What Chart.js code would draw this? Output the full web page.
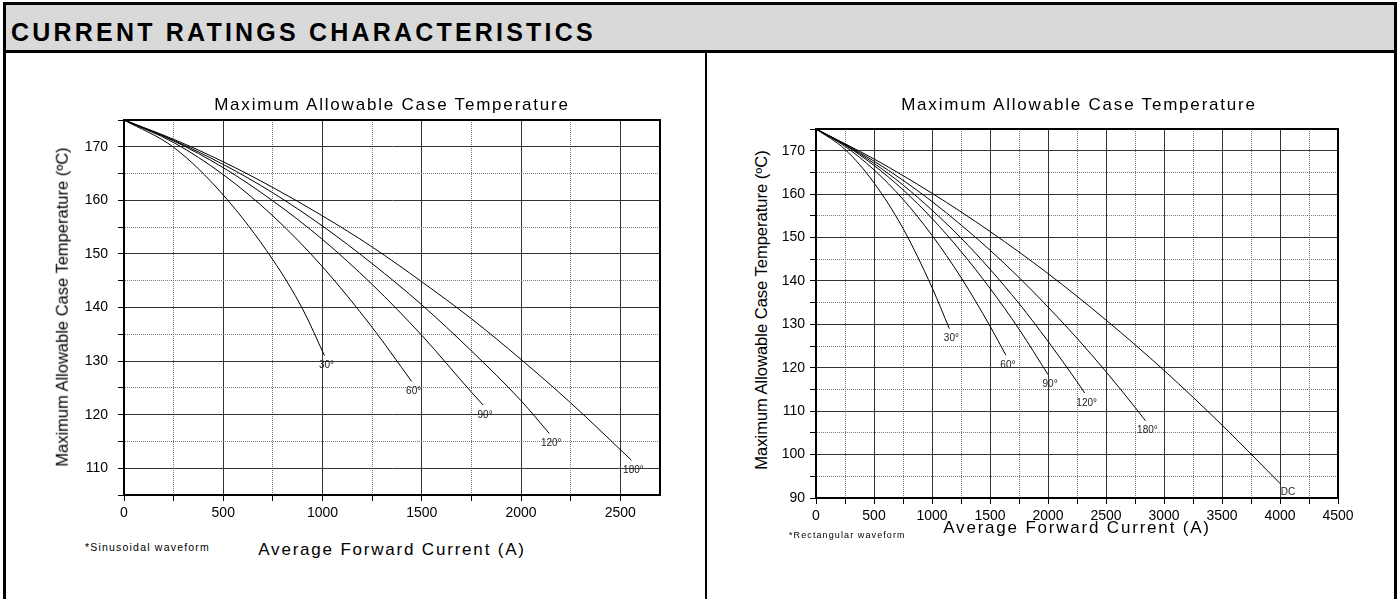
<!DOCTYPE html>
<html>
<head>
<meta charset="utf-8">
<title>Current Ratings Characteristics</title>
<script src="https://cdn.jsdelivr.net/npm/chart.js@4.4.1/dist/chart.umd.min.js"></script>
<style>
  body { margin: 0; width: 1399px; height: 599px; overflow: hidden; background: #fff;
         font-family: "Liberation Sans", Arial, sans-serif; position: relative; }
  #outer { position: absolute; left: 3px; top: 2px; width: 1388px; height: 610px; border: 3px solid #000; }
  #header { position: absolute; left: 6px; top: 5px; width: 1388px; height: 45px;
            background: #d9d9d9; border-bottom: 3px solid #000; }
  #header span { position: absolute; left: 5px; top: 26.5px; transform: translateY(-50%);
                 font-weight: bold; font-size: 25px; letter-spacing: 3.2px; line-height: 1; }
  #divider { position: absolute; left: 705px; top: 53px; width: 2px; height: 560px; background: #000; }
  canvas { position: absolute; }
  .txt { position: absolute; white-space: nowrap; line-height: 1; color: #000; transform: translate(-50%, -50%); }
  .ttl { font-size: 17px; letter-spacing: 1.8px; }
  .ytl { font-size: 16.5px; transform: translate(-50%, -50%) rotate(-90deg); }
  .note { position: absolute; white-space: nowrap; line-height: 1; transform: translateY(-50%); }
</style>
</head>
<body>
<div id="outer"></div>
<div id="header"><span>CURRENT RATINGS CHARACTERISTICS</span></div>
<div id="divider"></div>

<canvas id="sinChart" width="610" height="420" style="left:70px; top:110px;"></canvas>
<canvas id="rectChart" width="590" height="415" style="left:770px; top:118px;"></canvas>

<div class="txt ttl" style="left:392px; top:104px;">Maximum Allowable Case Temperature</div>
<div class="txt ttl" style="left:1079px; top:104px;">Maximum Allowable Case Temperature</div>
<div class="txt ttl" style="left:392px; top:549px;">Average Forward Current (A)</div>
<div class="txt ttl" style="left:1077px; top:527px;">Average Forward Current (A)</div>
<div class="txt ytl" style="left:62px; top:307px;">Maximum Allowable Case Temperature (ºC)</div>
<div class="txt ytl" style="left:761px; top:310px;">Maximum Allowable Case Temperature (ºC)</div>
<div class="note" style="left:85px; top:547px; font-size:10.5px; letter-spacing:1.2px;">*Sinusoidal waveform</div>
<div class="note" style="left:789px; top:535px; font-size:9px; letter-spacing:1.1px;">*Rectangular waveform</div>

<script>
// sinusoidal waveform, current (A) and case temperature (ºC) per conduction angle
const sinLabels = ["30°", "60°", "90°", "120°", "180°"];
const sinI30 = [0, 250, 500, 750, 900, 1010];
const sinT30 = [175, 169.9, 161.0, 148.9, 139.7, 131.0];
const sinI60 = [0, 250, 500, 750, 1000, 1250, 1449];
const sinT60 = [175, 170.8, 164.8, 157.1, 147.6, 136.3, 126.2];
const sinI90 = [0, 250, 500, 750, 1000, 1250, 1500, 1750, 1809];
const sinT90 = [175, 171.1, 166.1, 159.9, 152.7, 144.3, 134.8, 124.2, 121.8];
const sinI120 = [0, 250, 500, 750, 1000, 1250, 1500, 1750, 2000, 2142];
const sinT120 = [175, 171.2, 166.7, 161.4, 155.2, 148.2, 140.5, 131.9, 122.6, 116.5];
const sinI180 = [0, 250, 500, 750, 1000, 1250, 1500, 1750, 2000, 2250, 2556];
const sinT180 = [175, 171.4, 167.2, 162.4, 157.1, 151.3, 144.8, 137.9, 130.3, 122.2, 111.5];

// rectangular waveform
const rectLabels = ["30°", "60°", "90°", "120°", "180°", "DC"];
const rectI30 = [0, 250, 500, 750, 1000, 1150];
const rectT30 = [175, 170.3, 162.6, 152.1, 138.5, 129.0];
const rectI60 = [0, 250, 500, 750, 1000, 1250, 1500, 1637];
const rectT60 = [175, 171.0, 165.6, 158.8, 150.5, 140.8, 129.6, 122.9];
const rectI90 = [0, 250, 500, 750, 1000, 1250, 1500, 1750, 2001];
const rectT90 = [175, 171.3, 166.6, 161.0, 154.4, 146.8, 138.3, 128.9, 118.4];
const rectI120 = [0, 250, 500, 750, 1000, 1250, 1500, 1750, 2000, 2250, 2316];
const rectT120 = [175, 171.4, 167.1, 162.1, 156.3, 149.9, 142.7, 134.8, 126.1, 116.8, 114.2];
const rectI180 = [0, 250, 500, 750, 1000, 1250, 1500, 1750, 2000, 2250, 2500, 2750, 2840];
const rectT180 = [175, 171.5, 167.6, 163.2, 158.3, 152.9, 147.1, 140.8, 134.0, 126.8, 119.1, 110.9, 107.8];
const rectIDC = [0, 500, 1000, 1500, 2000, 2500, 3000, 3500, 4006];
const rectTDC = [175, 168.1, 160.2, 151.4, 141.7, 131.0, 119.4, 106.8, 93.2];

// axis ranges and tick positions (labels only on the multiples of 500 A / 10 ºC)
const sinXMax = 2700, sinYMin = 105;
const rectXMax = 4500, rectYMin = 90;
const yMax = 175;
const sinXTicks = [0, 250, 500, 750, 1000, 1250, 1500, 1750, 2000, 2250, 2500];
const sinYTicks = [105, 110, 115, 120, 125, 130, 135, 140, 145, 150, 155, 160, 165, 170, 175];
const rectXTicks = [0, 250, 500, 750, 1000, 1250, 1500, 1750, 2000, 2250, 2500, 2750, 3000,
                    3250, 3500, 3750, 4000, 4250, 4500];
const rectYTicks = [90, 95, 100, 105, 110, 115, 120, 125, 130, 135, 140, 145, 150, 155, 160,
                    165, 170, 175];

Chart.defaults.font.family = '"Liberation Sans", Arial, sans-serif';
Chart.defaults.color = "#000";

function toPoints(xs, ys) {
  return xs.map((x, i) => ({ x: x, y: ys[i] }));
}

function makeDataset(label, xs, ys) {
  return {
    label: label,
    data: toPoints(xs, ys),
    borderColor: "#000",
    borderWidth: 1,
    pointRadius: 0,
    fill: false,
    cubicInterpolationMode: "monotone"
  };
}

// curve names next to the end of each line
const curveLabels = {
  id: "curveLabels",
  afterDatasetsDraw(chart) {
    const { ctx, scales } = chart;
    ctx.save();
    ctx.font = '10px "Liberation Sans", Arial, sans-serif';
    ctx.fillStyle = "#222";
    ctx.textBaseline = "middle";
    chart.data.datasets.forEach(ds => {
      const last = ds.data[ds.data.length - 1];
      const px = scales.x.getPixelForValue(last.x);
      const py = scales.y.getPixelForValue(last.y);
      if (ds.label === "DC") {
        ctx.textAlign = "left";
        ctx.fillText(ds.label, px, py + 8);
      } else {
        ctx.textAlign = "center";
        ctx.fillText(ds.label, px + 2, py + 10);
      }
    });
    ctx.restore();
  }
};

// box round the plot area
const plotFrame = {
  id: "plotFrame",
  afterDraw(chart) {
    const { ctx, chartArea: a } = chart;
    ctx.save();
    ctx.strokeStyle = "#000";
    ctx.lineWidth = 2;
    ctx.strokeRect(a.left, a.top, a.right - a.left, a.bottom - a.top);
    ctx.restore();
  }
};

function makeScales(xMax, yMin, xTicks, yTicks, yWidth, yPad) {
  const xMajor = v => v % 500 === 0;
  const yMajor = v => v % 10 === 0;
  return {
    x: {
      type: "linear", min: 0, max: xMax,
      afterBuildTicks: s => { s.ticks = xTicks.map(v => ({ value: v })); },
      afterFit: s => { s.height = 35; s.paddingLeft = 0; s.paddingRight = 0; },
      ticks: {
        autoSkip: false, maxRotation: 0, padding: 4, font: { size: 14 },
        callback: v => xMajor(v) ? String(v) : ""
      },
      grid: {
        color: c => (c.tick && !xMajor(c.tick.value)) ? "#777" : "#333",
        lineWidth: 1, tickLength: 6, tickColor: "#000", tickWidth: 1, tickBorderDash: []
      },
      border: {
        color: "#000", width: 2,
        dash: c => (c.tick && !xMajor(c.tick.value)) ? [1, 1] : []
      }
    },
    y: {
      type: "linear", min: yMin, max: yMax,
      afterBuildTicks: s => { s.ticks = yTicks.map(v => ({ value: v })); },
      afterFit: s => { s.width = yWidth; s.paddingTop = 0; s.paddingBottom = 0; },
      ticks: {
        autoSkip: false, padding: yPad, font: { size: 14 },
        callback: v => (yMajor(v) && v < yMax) ? String(v) : ""
      },
      grid: {
        color: c => (c.tick && !yMajor(c.tick.value)) ? "#777" : "#333",
        lineWidth: 1, tickLength: 6, tickColor: "#000", tickWidth: 1, tickBorderDash: []
      },
      border: {
        color: "#000", width: 2,
        dash: c => (c.tick && !yMajor(c.tick.value)) ? [1, 1] : []
      }
    }
  };
}

function makeChart(id, datasets, xMax, yMin, xTicks, yTicks, yWidth, yPad, padding) {
  return new Chart(document.getElementById(id), {
    type: "line",
    data: { datasets: datasets },
    options: {
      responsive: false,
      animation: false,
      layout: { autoPadding: false, padding: padding },
      plugins: { legend: { display: false }, tooltip: { enabled: false }, title: { display: false } },
      scales: makeScales(xMax, yMin, xTicks, yTicks, yWidth, yPad)
    },
    plugins: [curveLabels, plotFrame]
  });
}

makeChart("sinChart", [
  makeDataset(sinLabels[0], sinI30, sinT30),
  makeDataset(sinLabels[1], sinI60, sinT60),
  makeDataset(sinLabels[2], sinI90, sinT90),
  makeDataset(sinLabels[3], sinI120, sinT120),
  makeDataset(sinLabels[4], sinI180, sinT180)
], sinXMax, sinYMin, sinXTicks, sinYTicks, 54, 10, { top: 10, right: 20, bottom: 0, left: 0 });

makeChart("rectChart", [
  makeDataset(rectLabels[0], rectI30, rectT30),
  makeDataset(rectLabels[1], rectI60, rectT60),
  makeDataset(rectLabels[2], rectI90, rectT90),
  makeDataset(rectLabels[3], rectI120, rectT120),
  makeDataset(rectLabels[4], rectI180, rectT180),
  makeDataset(rectLabels[5], rectIDC, rectTDC)
], rectXMax, rectYMin, rectXTicks, rectYTicks, 46, 5, { top: 11, right: 22, bottom: 0, left: 0 });
</script>
</body>
</html>
